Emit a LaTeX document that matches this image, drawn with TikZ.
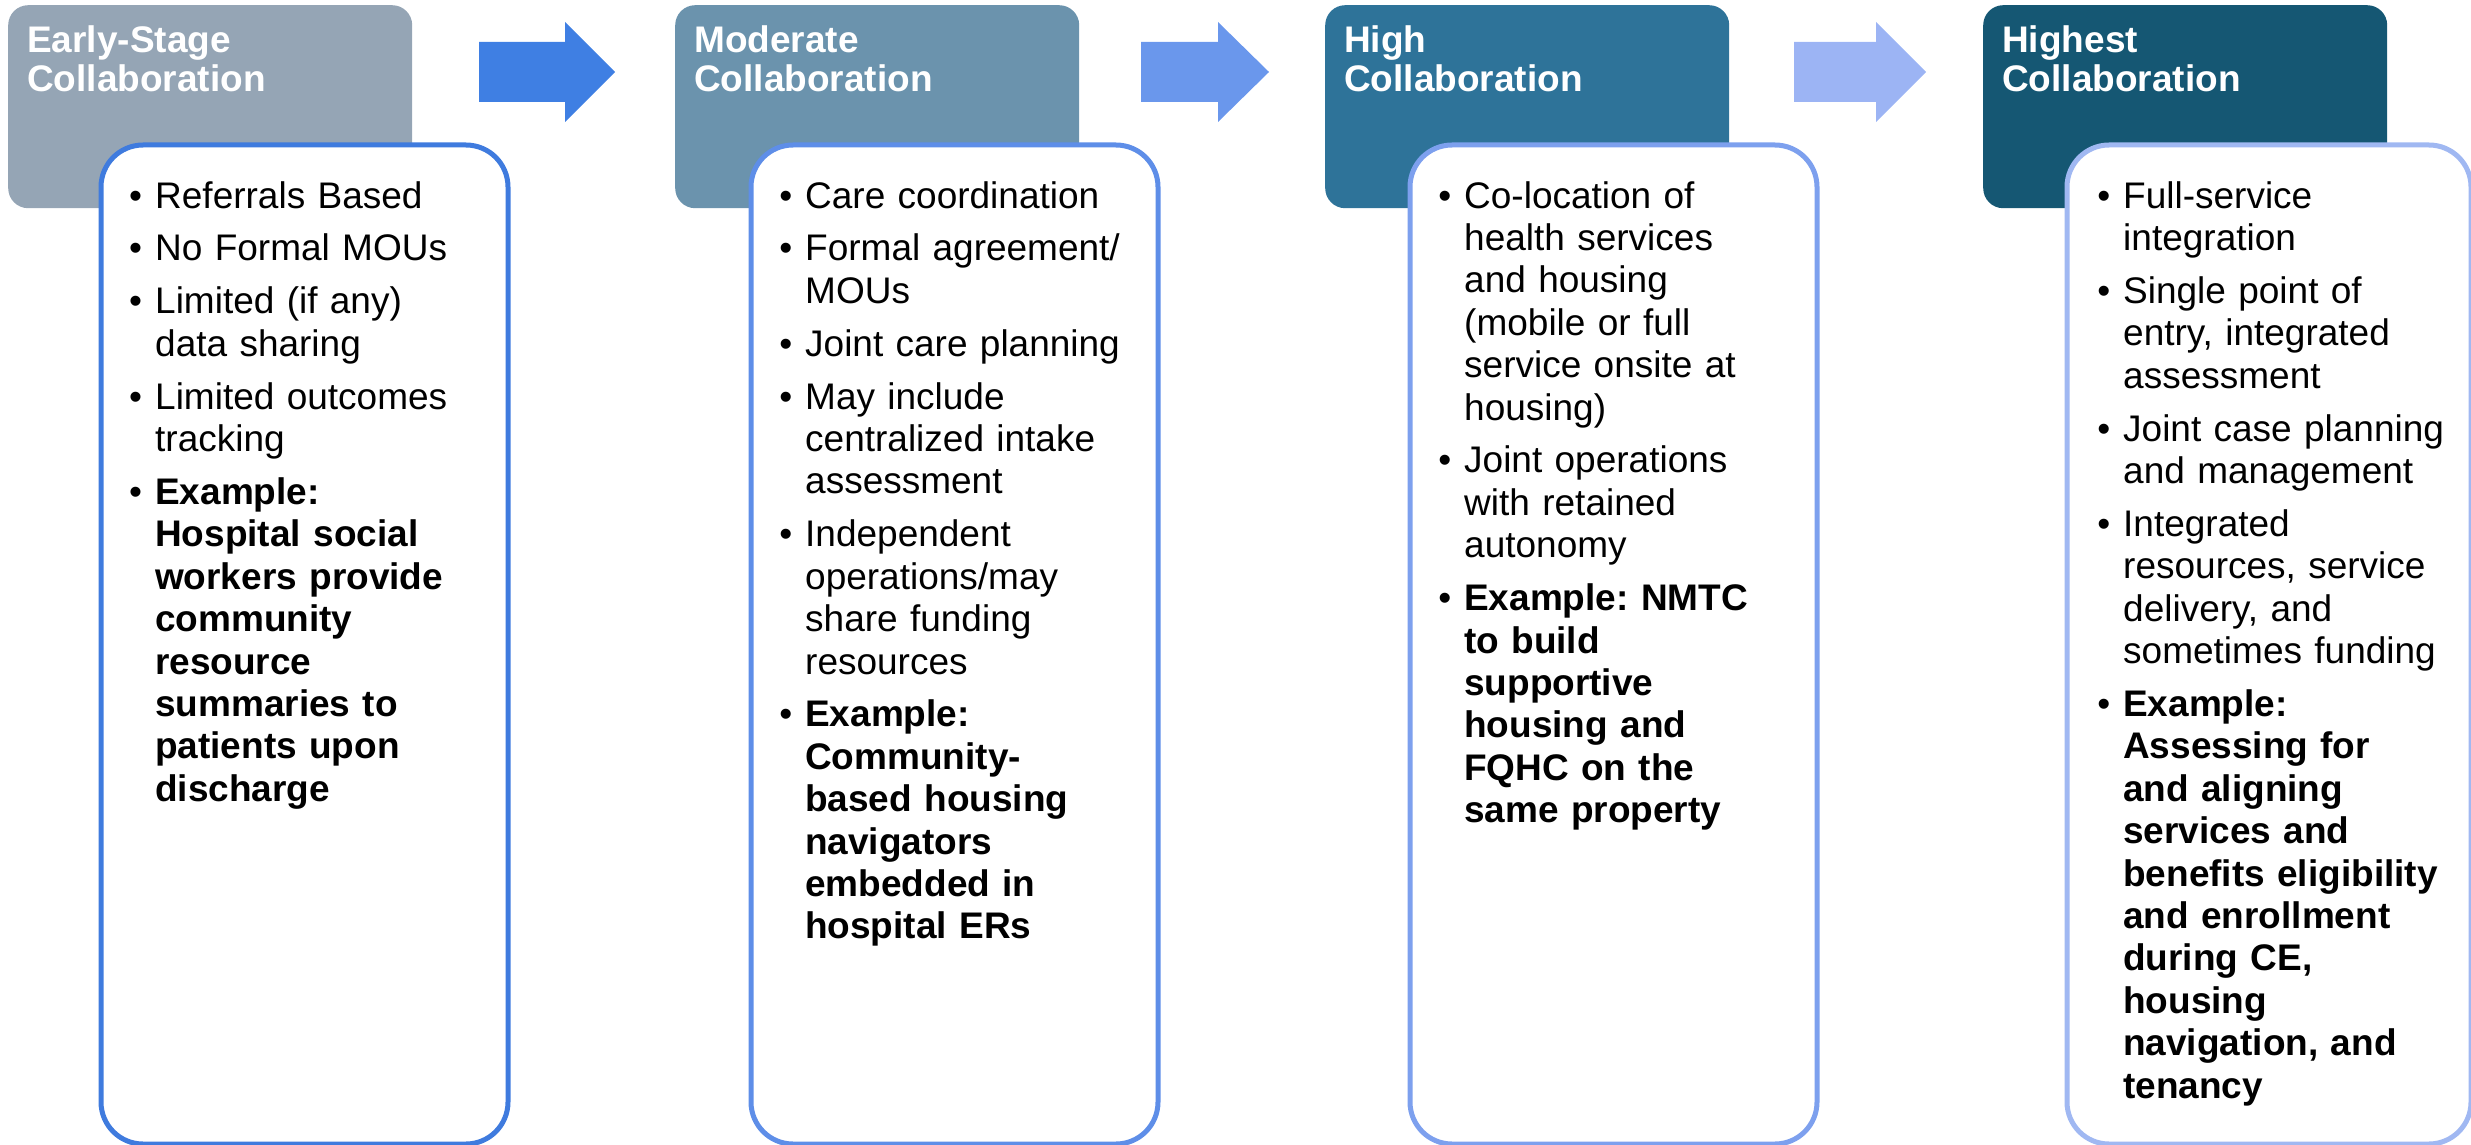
\documentclass[tikz,border=0pt]{standalone}
\usepackage{fontspec}
\setmainfont{Liberation Sans}
\frenchspacing

\definecolor{hdA}{HTML}{95A5B5}
\definecolor{hdB}{HTML}{6B93AD}
\definecolor{hdC}{HTML}{2E7399}
\definecolor{hdD}{HTML}{155773}
\definecolor{bdA}{HTML}{3F7BDE}
\definecolor{bdB}{HTML}{5E8EE8}
\definecolor{bdC}{HTML}{7DA0EE}
\definecolor{bdD}{HTML}{A0B8F2}
\definecolor{arA}{HTML}{3F7FE3}
\definecolor{arB}{HTML}{6A97EC}
\definecolor{arC}{HTML}{9CB4F4}

% bullet hung in the left margin of a list line
\newcommand{\itm}{\leavevmode\llap{\textbullet\hspace{13pt}}}
\newcommand{\gap}{\\[10.5pt]}

\tikzset{
  hbox/.style={rectangle, rounded corners=20pt, inner sep=0pt, draw=none,
    minimum width=404pt, minimum height=203pt, anchor=north west},
  panel/.style={rectangle, rounded corners=42pt, inner sep=0pt, fill=white,
    line width=5pt, minimum width=407pt, minimum height=999pt, anchor=north west},
  title/.style={anchor=base west, text width=380pt, align=left, inner sep=0pt,
    text=white, font=\fontsize{37}{39}\selectfont\bfseries},
  body/.style={anchor=base west, text width=400pt, align=left, inner sep=0pt,
    text=black, font=\fontsize{37}{42.4}\selectfont},
}

\begin{document}
\begin{tikzpicture}[x=1pt, y=-1pt]
\useasboundingbox (0,0) rectangle (2471,1145);

% stage headers
\node[hbox, fill=hdA] (h1) at (8,5) {};
\node[hbox, fill=hdB] (h2) at (675,5) {};
\node[hbox, fill=hdC] (h3) at (1325,5) {};
\node[hbox, fill=hdD] (h4) at (1983,5) {};

\node[title] (t1) at (27,53) {Early-Stage\\Collaboration};
\node[title] (t2) at (694,53) {Moderate\\Collaboration};
\node[title] (t3) at (1344,53) {High\\Collaboration};
\node[title] (t4) at (2002,53) {Highest\\Collaboration};

% block arrows between stages
\fill[arA] (479,42) -- (565,42) -- (565,22) -- (615,72) -- (565,122) -- (565,102) -- (479,102) -- cycle;
\fill[arB] (1141,42) -- (1218,42) -- (1218,22) -- (1269,72) -- (1218,122) -- (1218,102) -- (1141,102) -- cycle;
\fill[arC] (1794,42) -- (1876,42) -- (1876,22) -- (1926,72) -- (1876,122) -- (1876,102) -- (1794,102) -- cycle;

% detail panels
\node[panel, draw=bdA] (c1) at (98.5,142.5) {};
\node[panel, draw=bdB] (c2) at (748.5,142.5) {};
\node[panel, draw=bdC] (c3) at (1407.5,142.5) {};
\node[panel, draw=bdD, minimum width=404pt] (c4) at (2064.5,142.5) {};

\node[body] (l1) at (155,208) {%
\itm Referrals Based\gap
\itm No Formal MOUs\gap
\itm Limited (if any)\\data sharing\gap
\itm Limited outcomes\\tracking\gap
\itm\textbf{Example:}\\\textbf{Hospital social}\\\textbf{workers provide}\\\textbf{community}\\\textbf{resource}\\\textbf{summaries to}\\\textbf{patients upon}\\\textbf{discharge}};

\node[body] (l2) at (805,208) {%
\itm Care coordination\gap
\itm Formal agreement/\\MOUs\gap
\itm Joint care planning\gap
\itm May include\\centralized intake\\assessment\gap
\itm Independent\\operations/may\\share funding\\resources\gap
\itm\textbf{Example:}\\\textbf{Community-}\\\textbf{based housing}\\\textbf{navigators}\\\textbf{embedded in}\\\textbf{hospital ERs}};

\node[body] (l3) at (1464,208) {%
\itm Co-location of\\health services\\and housing\\(mobile or full\\service onsite at\\housing)\gap
\itm Joint operations\\with retained\\autonomy\gap
\itm\textbf{Example: NMTC}\\\textbf{to build}\\\textbf{supportive}\\\textbf{housing and}\\\textbf{FQHC on the}\\\textbf{same property}};

\node[body] (l4) at (2123,208) {%
\itm Full-service\\integration\gap
\itm Single point of\\entry, integrated\\assessment\gap
\itm Joint case planning\\and management\gap
\itm Integrated\\resources, service\\delivery, and\\sometimes funding\gap
\itm\textbf{Example:}\\\textbf{Assessing for}\\\textbf{and aligning}\\\textbf{services and}\\\textbf{benefits eligibility}\\\textbf{and enrollment}\\\textbf{during CE,}\\\textbf{housing}\\\textbf{navigation, and}\\\textbf{tenancy}};
\end{tikzpicture}
\end{document}
